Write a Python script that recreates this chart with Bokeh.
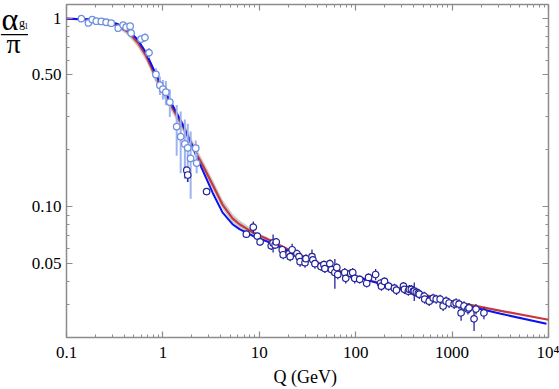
from bokeh.plotting import figure
from bokeh.models import FixedTicker, CustomJSTickFormatter, LogAxis, ColumnDataSource, Label
from bokeh.layouts import row
from bokeh.embed import file_html
from bokeh.resources import INLINE

# ---------------- data ----------------
x_major = [0.1, 1, 10, 100, 1000, 10000]
x_major_labels = ["0.1", "1", "10", "100", "1000", "10\u2074"]
x_minor = [0.2, 0.3, 0.4, 0.5, 0.6, 0.7, 0.8, 0.9,
           2, 3, 4, 5, 6, 7, 8, 9,
           20, 30, 40, 50, 60, 70, 80, 90,
           200, 300, 400, 500, 600, 700, 800, 900,
           2000, 3000, 4000, 5000, 6000, 7000, 8000, 9000]
y_major = [0.05, 0.1, 0.5, 1]
y_major_labels = ["0.05", "0.10", "0.50", "1"]
y_minor = [0.03, 0.04, 0.06, 0.07, 0.08, 0.09,
           0.2, 0.3, 0.4, 0.6, 0.7, 0.8, 0.9]

blue_q = [0.1, 0.169, 0.271, 0.344, 0.436, 0.552, 0.668, 0.847, 1.048, 1.27, 1.61,
          1.90, 2.30, 2.58, 3.28, 4.15, 5.27, 6.22, 7.52, 9.10, 11.5, 25.8, 56.6,
          146, 479, 977, 3200, 9530]
blue_a = [0.995, 0.988, 0.964, 0.930, 0.865, 0.767, 0.656, 0.503, 0.410, 0.342, 0.272,
          0.225, 0.178, 0.156, 0.1184, 0.0930, 0.0805, 0.0758, 0.0722, 0.0688, 0.0658,
          0.0548, 0.0462, 0.0400, 0.0338, 0.0311, 0.0269, 0.0238]

red_q = [0.1, 0.169, 0.271, 0.344, 0.436, 0.552, 0.668, 0.847, 1.048, 1.27, 1.61,
         1.90, 2.30, 2.58, 3.28, 4.15, 5.27, 6.22, 7.52, 9.10, 11.5, 25.8, 56.6,
         146, 479, 977, 3200, 10000]
red_a = [0.995, 0.985, 0.953, 0.908, 0.845, 0.740, 0.633, 0.485, 0.395, 0.330, 0.266,
         0.225, 0.185, 0.166, 0.1303, 0.1024, 0.0865, 0.0805, 0.0758, 0.0714, 0.0680,
         0.0554, 0.0468, 0.0402, 0.0342, 0.0314, 0.0279, 0.0250]

band_q = [0.344, 0.436, 0.552, 0.668, 0.847, 1.048, 1.27, 1.61, 1.90, 2.30, 2.58,
          3.28, 4.15, 5.27, 6.22, 7.52, 9.10, 11.5, 15.0]
band_hi = [0.93, 0.87, 0.775, 0.67, 0.515, 0.42, 0.35, 0.283, 0.24, 0.197, 0.177,
           0.139, 0.109, 0.0915, 0.0845, 0.079, 0.0735, 0.0695, 0.065]
band_lo = [0.885, 0.81, 0.70, 0.595, 0.455, 0.37, 0.31, 0.25, 0.212, 0.174, 0.156,
           0.123, 0.097, 0.082, 0.0765, 0.0725, 0.069, 0.0665, 0.063]

low_q = [0.143, 0.169, 0.185, 0.204, 0.230, 0.258, 0.291, 0.344, 0.387, 0.416, 0.457,
         0.468, 0.593, 0.652, 0.718, 0.847, 0.931, 1.0, 1.074, 1.18, 1.39, 1.53, 1.69,
         1.81, 1.94, 2.19, 2.24]
low_a = [0.995, 0.945, 0.985, 0.966, 0.962, 0.953, 0.942, 0.886, 0.92, 0.897, 0.908,
         0.835, 0.776, 0.79, 0.656, 0.503, 0.441, 0.42, 0.405, 0.359, 0.266, 0.235, 0.215,
         0.205, 0.18, 0.204, 0.170]
low_err = [0.008, 0.01, 0.008, 0.008, 0.008, 0.008, 0.01, 0.015, 0.015, 0.015, 0.015,
           0.02, 0.03, 0.04, 0.04, 0.04, 0.05, 0.05, 0.06, 0.06, 0.08, 0.085, 0.075,
           0.07, 0.07, 0.02, 0.02]

dark_q = [1.77, 1.81, 2.84,
          7.34, 8.67, 9.53, 10.2, 13.3, 13.9, 14.6, 15.0, 17.3, 17.7, 20.4, 20.9, 21.9,
          24.6, 25.8, 26.5, 29.8, 30.5, 35.2, 36.0, 37.8, 43.6, 46.8, 47.9, 54.0, 56.0,
          60.8, 63.7, 65.2, 77.0, 78.9, 88.8, 93.1, 97.7, 110, 130, 136, 161, 181, 185,
          199, 219, 252, 265, 313, 320, 352, 360, 378, 396, 405, 425, 446, 457, 514, 520,
          579, 637, 684, 752, 807, 867, 931, 1050, 1100, 1180, 1240, 1330, 1460, 1500,
          1690, 1770, 2140]
dark_a = [0.156, 0.147, 0.120,
          0.0713, 0.0776, 0.0696, 0.0648, 0.0618, 0.0640, 0.0625, 0.0648, 0.0589, 0.0554,
          0.0561, 0.0541, 0.0589, 0.0561, 0.0541, 0.0509, 0.0503, 0.0528, 0.0541, 0.0521,
          0.0497, 0.0480, 0.0491, 0.0468, 0.0497, 0.0462, 0.0446, 0.0474, 0.0435, 0.0446,
          0.0415, 0.0441, 0.0446, 0.0415, 0.0410, 0.0391, 0.0420, 0.0435, 0.0391, 0.0377,
          0.0400, 0.0377, 0.0368, 0.0359, 0.0377, 0.0363, 0.0355, 0.0363, 0.0363, 0.0355,
          0.0355, 0.0350, 0.0346, 0.0342, 0.0334, 0.0322, 0.0314, 0.0326, 0.0322, 0.0322,
          0.0296, 0.0314, 0.0307, 0.0303, 0.0307, 0.0303, 0.0272, 0.0296, 0.0285, 0.0289,
          0.0253, 0.0285, 0.0272]
dark_err = [0.006, 0.012, 0.004,
            0.003, 0.0055, 0.003, 0.003, 0.003, 0.007, 0.003, 0.003, 0.003, 0.003,
            0.003, 0.003, 0.0045, 0.003, 0.003, 0.003, 0.003, 0.003, 0.005, 0.003,
            0.003, 0.0025, 0.0025, 0.0025, 0.0025, 0.0025, 0.008, 0.0025, 0.0025, 0.0025,
            0.0025, 0.0025, 0.0025, 0.0025, 0.002, 0.002, 0.002, 0.003, 0.002, 0.002,
            0.002, 0.002, 0.002, 0.002, 0.002, 0.002, 0.002, 0.002, 0.002, 0.002,
            0.004, 0.002, 0.002, 0.002, 0.0018, 0.0018, 0.0018, 0.0018, 0.0018, 0.0018,
            0.0018, 0.0018, 0.0018, 0.0018, 0.0018, 0.0018, 0.0025, 0.0018, 0.0018, 0.0018,
            0.0035, 0.0018, 0.002]

# ---------------- layout sizes (Bokeh's page template has zero body margin) ----------------
SERIF = "'Liberation Serif', 'Times New Roman', serif"
GRAY = "#8c8c8c"
FRAC_W = 28          # strip left of the plot holding the y title
MAIN_W, H = 531, 389

p = figure(width=MAIN_W, height=H, x_axis_type="log", y_axis_type="log",
           x_range=(0.1, 10000), y_range=(0.02013, 1.184),
           output_backend="svg", toolbar_location=None,
           min_border_left=35, min_border_right=11, min_border_top=4, min_border_bottom=47)
p.grid.visible = False
p.outline_line_color = GRAY
p.outline_line_width = 1.5
p.background_fill_color = "white"
p.border_fill_color = "white"

fmt_code = """
for (let i = 0; i < vals.length; i++) {
  if (Math.abs(vals[i] - tick) <= 1e-9 * Math.max(1, Math.abs(tick))) return labs[i];
}
return "";
"""
xfmt = CustomJSTickFormatter(args=dict(vals=x_major, labs=x_major_labels), code=fmt_code)
yfmt = CustomJSTickFormatter(args=dict(vals=y_major, labs=y_major_labels), code=fmt_code)


def style_axis(ax, labels=True):
    ax.axis_line_color = None
    ax.major_tick_line_color = GRAY
    ax.minor_tick_line_color = GRAY
    ax.major_tick_line_width = 1.2
    ax.minor_tick_line_width = 1.0
    ax.major_tick_in = 6
    ax.major_tick_out = 0
    ax.minor_tick_in = 3
    ax.minor_tick_out = 0
    if labels:
        ax.major_label_text_font = SERIF
        ax.major_label_text_font_size = "17px"
        ax.major_label_text_color = "black"
    else:
        ax.major_label_text_font_size = "0px"
        ax.major_label_standoff = 0


xa = p.xaxis[0]
xa.ticker = FixedTicker(ticks=x_major, minor_ticks=x_minor)
xa.formatter = xfmt
style_axis(xa)
xa.major_label_standoff = 5
xa.axis_label = "Q  (GeV)"
xa.axis_label_text_font = SERIF
xa.axis_label_text_font_size = "18px"
xa.axis_label_text_font_style = "normal"
xa.axis_label_text_color = "black"
xa.axis_label_standoff = 2

ya = p.yaxis[0]
ya.ticker = FixedTicker(ticks=y_major, minor_ticks=y_minor)
ya.formatter = yfmt
style_axis(ya)
ya.major_label_standoff = 5

top = LogAxis(ticker=FixedTicker(ticks=x_major, minor_ticks=x_minor),
              formatter=CustomJSTickFormatter(code="return '';"))
style_axis(top, labels=False)
p.add_layout(top, "above")
right = LogAxis(ticker=FixedTicker(ticks=y_major, minor_ticks=y_minor),
                formatter=CustomJSTickFormatter(code="return '';"))
style_axis(right, labels=False)
p.add_layout(right, "right")

# ---------------- glyphs ----------------
p.varea(x=band_q, y1=band_lo, y2=band_hi, fill_color="#9a9a9a", fill_alpha=0.5)
p.line(red_q, red_a, line_color="#c8383c", line_width=2.2)
p.line(blue_q, blue_a, line_color="#0a14f0", line_width=2.0)

low_src = ColumnDataSource(dict(q=low_q, a=low_a,
                                lo=[a - e for a, e in zip(low_a, low_err)],
                                hi=[a + e for a, e in zip(low_a, low_err)]))
p.segment(x0="q", y0="lo", x1="q", y1="hi", source=low_src,
          line_color="#9fb3ee", line_width=2.0)
p.scatter("q", "a", source=low_src, marker="circle", size=6.5,
          fill_color="white", line_color="#6f8fe0", line_width=1.3)

dark_src = ColumnDataSource(dict(q=dark_q, a=dark_a,
                                 lo=[a - e for a, e in zip(dark_a, dark_err)],
                                 hi=[a + e for a, e in zip(dark_a, dark_err)]))
p.segment(x0="q", y0="lo", x1="q", y1="hi", source=dark_src,
          line_color="#24249a", line_width=1.3)
p.scatter("q", "a", source=dark_src, marker="circle", size=6.5,
          fill_color="white", line_color="#24249a", line_width=1.2)

# ---------------- y title strip: data units = page pixels (y measured downward) ----------------
frac = figure(width=FRAC_W, height=H, x_range=(0, FRAC_W), y_range=(H, 0),
              x_axis_location=None, y_axis_location=None,
              output_backend="svg", toolbar_location=None, min_border=0)
frac.grid.visible = False
frac.outline_line_color = None
frac.background_fill_color = "white"
frac.border_fill_color = "white"


def put(text, x, baseline_y, size):
    frac.add_layout(Label(text=text, x=x, y=baseline_y, x_units="data", y_units="data",
                          text_font=SERIF, text_font_size=size,
                          text_align="left", text_baseline="alphabetic", text_color="black"))


put("\u03b1", 1.0, 17, "32px")
put("g", 18.5, 22, "12px")
put("1", 23.8, 25, "8px")
put("\u2014", 0.5, 32.6, "27px")
put("\u03c0", 6, 45, "28px")

layout = row(frac, p, spacing=0)

open("out.html", "w").write(file_html(layout, INLINE))
